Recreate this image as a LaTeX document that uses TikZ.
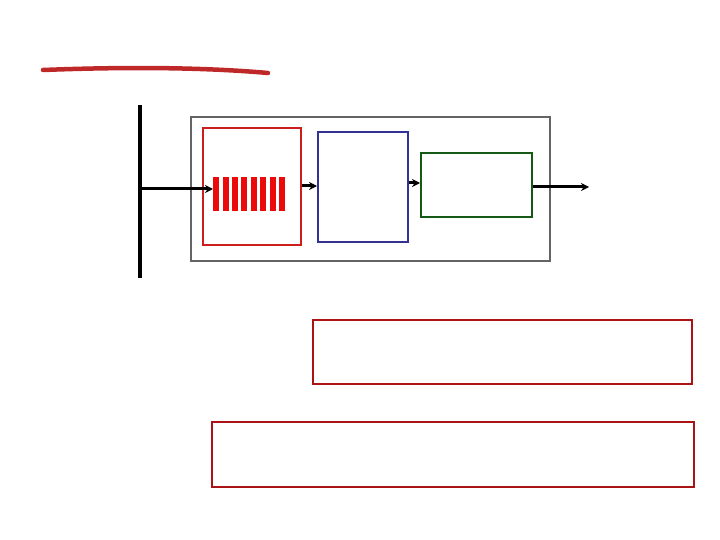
\documentclass[tikz,border=0pt]{standalone}
\usetikzlibrary{arrows.meta}
\definecolor{penred}{RGB}{190,40,40}
\definecolor{boxgray}{RGB}{100,100,100}
\definecolor{qred}{RGB}{205,30,30}
\definecolor{barred}{RGB}{235,10,10}
\definecolor{procblue}{RGB}{50,50,150}
\definecolor{outgreen}{RGB}{20,90,20}
\definecolor{darkred}{RGB}{170,20,20}
\tikzset{
  box/.style={draw, line width=2pt, inner sep=0pt, anchor=north west},
  conn/.style={line width=3pt, -{Stealth[length=8pt,width=8pt]}},
  qbar/.style={fill=barred, draw=none, inner sep=0pt, minimum width=6pt, minimum height=34pt, anchor=north west}
}
\begin{document}
\begin{tikzpicture}[x=1pt,y=-1pt]
\useasboundingbox (0,0) rectangle (720,540);
% pen stroke
\draw[penred, line width=4.5pt, line cap=round] (43,70) .. controls (120,67) and (200,67) .. (268,73);
% bus line
\coordinate (bt) at (140,105);
\coordinate (bb) at (140,278);
\coordinate (bj) at (140,189);
\draw[line width=3.5pt] (bt) -- (bb);
% router box
\node[box, draw=boxgray, minimum width=359pt, minimum height=144pt] (router) at (190,116) {};
\node[box, draw=qred, minimum width=98pt, minimum height=117pt] (queue) at (202,127) {};
\node[box, draw=procblue, minimum width=90pt, minimum height=110pt] (proc) at (317,131) {};
\node[box, draw=outgreen, minimum width=111pt, minimum height=64pt] (out) at (420,152) {};
% bars
\foreach \i in {0,...,7} {
  \node[qbar] (bar\i) at (213+9.4*\i,177) {};
}
% connectors
\draw[conn] (bj) -- (bar0.west |- bj);
\draw[conn] (queue.east |- 0,186) -- (proc.west |- 0,186);
\draw[conn] (proc.east |- 0,183) -- (out.west |- 0,183);
\coordinate (exit) at (589,187);
\draw[conn] (out.east |- exit) -- (exit);
% text boxes
\node[box, draw=darkred, minimum width=379pt, minimum height=64pt] (t1) at (312,319) {};
\node[box, draw=darkred, minimum width=482pt, minimum height=65pt] (t2) at (211,421) {};
\end{tikzpicture}
\end{document}
